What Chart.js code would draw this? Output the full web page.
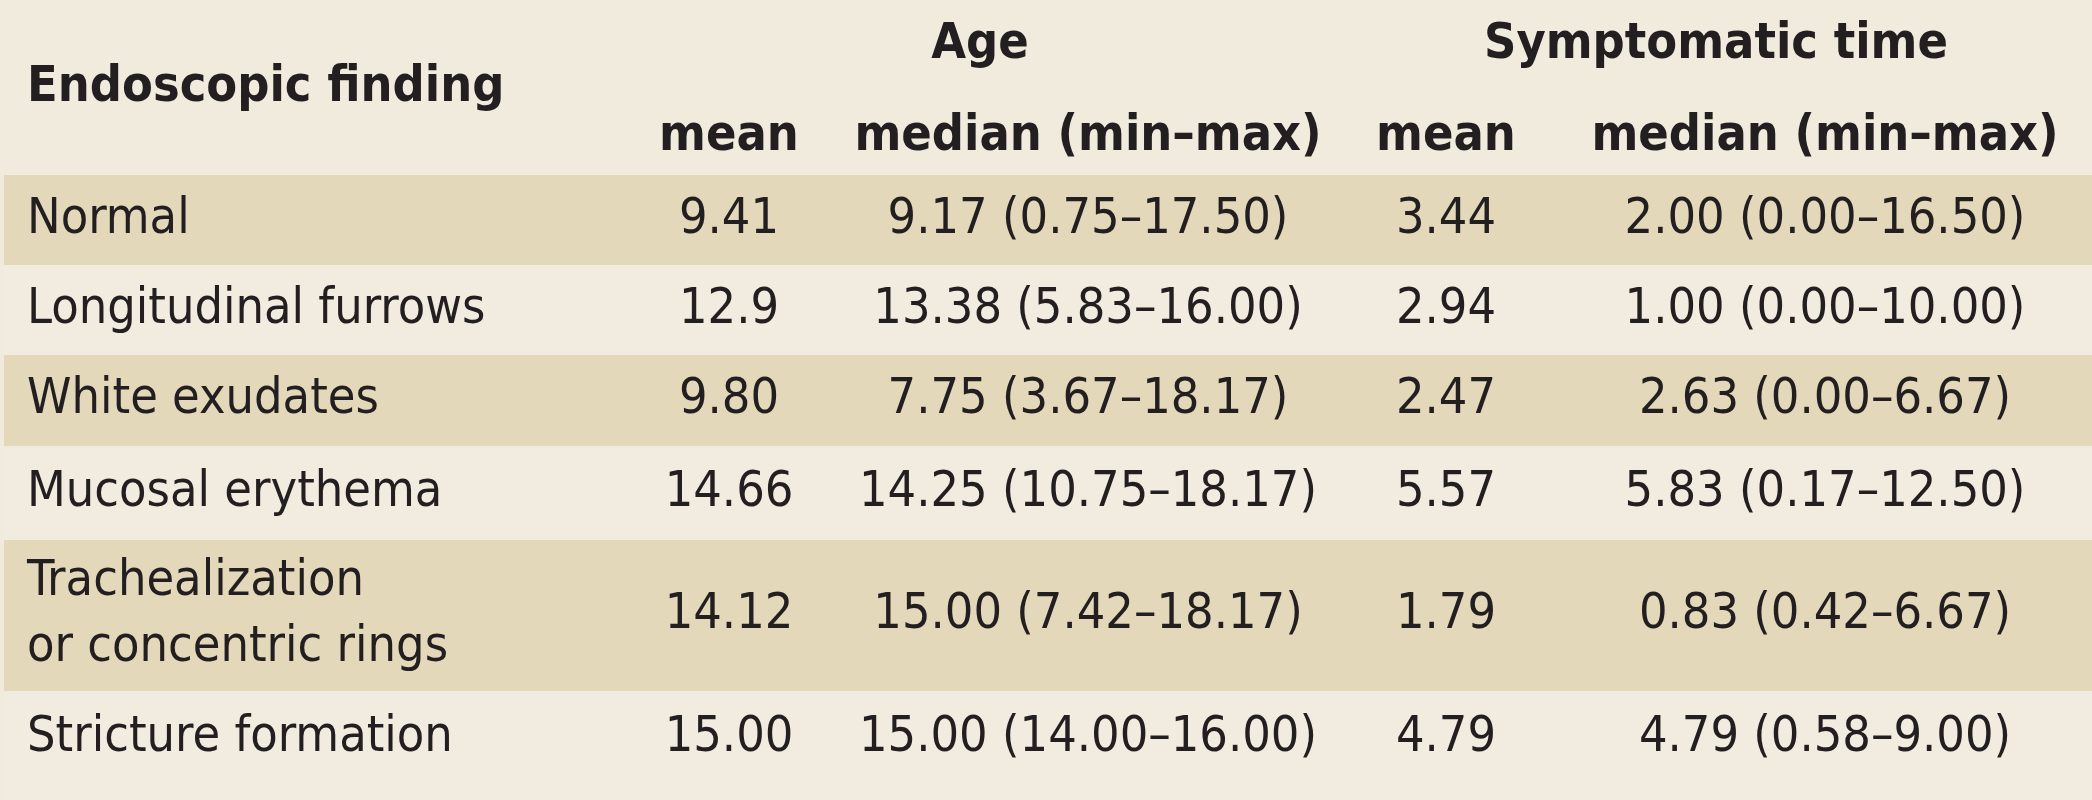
<!DOCTYPE html>
<html><head><meta charset="utf-8">
<script src="https://cdn.jsdelivr.net/npm/chart.js@4"></script>
<style>html,body{margin:0;padding:0;background:#f1ebde;}canvas{display:block;}</style>
</head><body>
<canvas id="c" width="2092" height="800"></canvas>
<script>
const findings = ["Normal","Longitudinal furrows","White exudates","Mucosal erythema","Trachealization\nor concentric rings","Stricture formation"];
const ageMean = ["9.41","12.9","9.80","14.66","14.12","15.00"];
const ageMedian = ["9.17 (0.75–17.50)","13.38 (5.83–16.00)","7.75 (3.67–18.17)","14.25 (10.75–18.17)","15.00 (7.42–18.17)","15.00 (14.00–16.00)"];
const symMean = ["3.44","2.94","2.47","5.57","1.79","4.79"];
const symMedian = ["2.00 (0.00–16.50)","1.00 (0.00–10.00)","2.63 (0.00–6.67)","5.83 (0.17–12.50)","0.83 (0.42–6.67)","4.79 (0.58–9.00)"];
const groupHeaders = ["Age","Symptomatic time"];
const subHeaders = ["mean","median (min–max)","mean","median (min–max)"];
const firstHeader = "Endoscopic finding";

// layout (table geometry in scale units)
const rowBounds = [[175,265],[265,355],[355,446],[449,538],[540,691],[693,800]];
const colCenters = [729,1088,1446,1825];
const groupCenters = [980,1716];
const FONT = '"Liberation Sans Narrow","DejaVu Sans Condensed",sans-serif';

const tablePlugin = {
  id:'table',
  beforeDatasetsDraw(chart){
    const {ctx, scales:{x,y}} = chart;
    const X = v=>x.getPixelForValue(v), Y = v=>y.getPixelForValue(v);
    ctx.save();
    ctx.fillStyle='#f1ebde'; ctx.fillRect(X(0),Y(0),X(2092)-X(0),Y(800)-Y(0));
    rowBounds.forEach((b,i)=>{
      ctx.fillStyle = i%2===0 ? '#e3d8ba' : '#f2ece0';
      ctx.fillRect(X(4),Y(b[0]),X(2092)-X(4),Y(b[1])-Y(b[0]));
    });
    ctx.fillStyle='#231f20'; ctx.textBaseline='middle';
    ctx.font='bold 50px '+FONT;
    ctx.textAlign='left'; ctx.fillText(firstHeader,X(27),Y(88));
    ctx.textAlign='center';
    groupHeaders.forEach((h,i)=>ctx.fillText(h,X(groupCenters[i]),Y(45)));
    subHeaders.forEach((h,i)=>ctx.fillText(h,X(colCenters[i]),Y(137)));
    ctx.font='50px '+FONT;
    findings.forEach((f,i)=>{
      const b=rowBounds[i]; const mid=(b[0]+b[1])/2 - (i===5?8:0);
      const lines=f.split('\n');
      ctx.textAlign='left';
      lines.forEach((l,k)=>ctx.fillText(l,X(27),Y(mid+(k-(lines.length-1)/2)*66)));
      ctx.textAlign='center';
      [ageMean[i],ageMedian[i],symMean[i],symMedian[i]].forEach((t,j)=>ctx.fillText(t,X(colCenters[j]),Y(mid)));
    });
    ctx.restore();
  }
};

new Chart(document.getElementById('c'),{
  type:'scatter',
  data:{datasets:[{data:[]}]},
  options:{
    responsive:false, animation:false, devicePixelRatio:1,
    layout:{padding:0},
    plugins:{legend:{display:false},tooltip:{enabled:false}},
    scales:{
      x:{type:'linear',min:0,max:2092,display:false},
      y:{type:'linear',min:0,max:800,reverse:true,display:false}
    }
  },
  plugins:[tablePlugin]
});
</script>
</body></html>
